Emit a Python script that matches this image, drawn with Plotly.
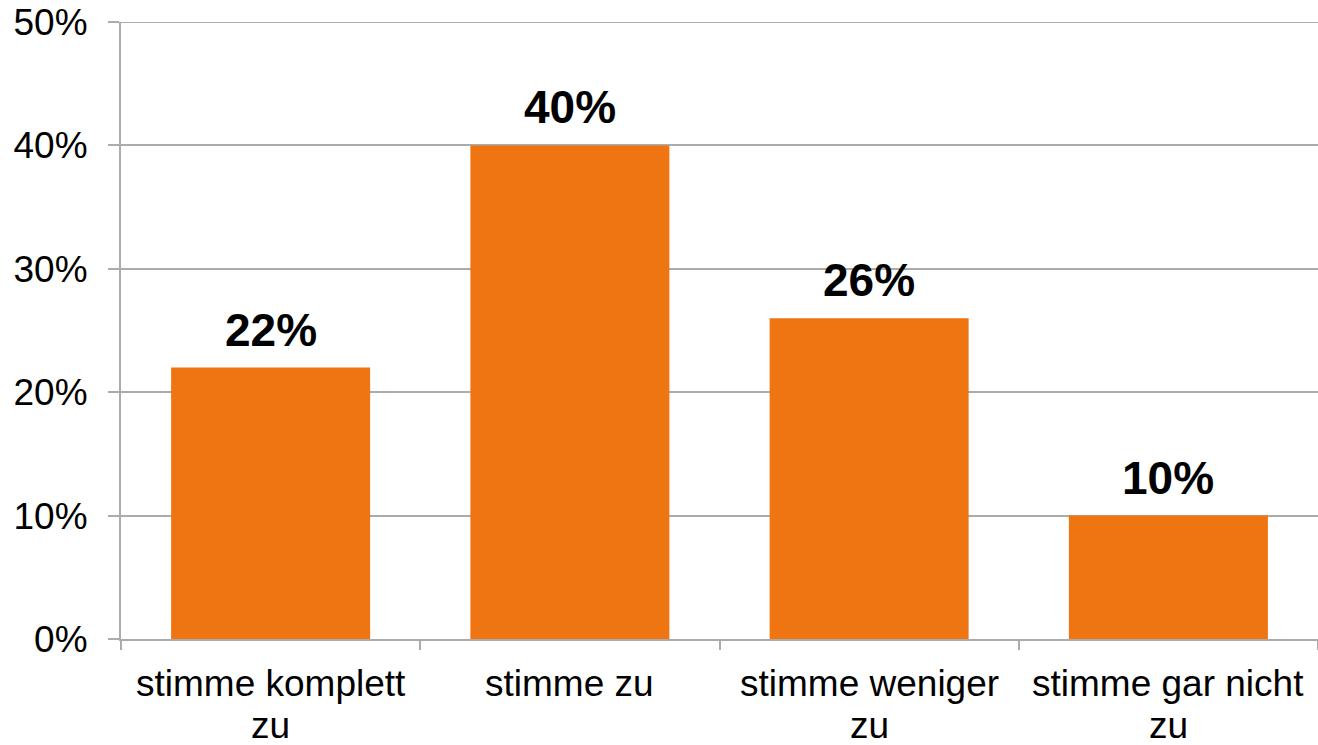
import plotly.graph_objects as go

categories = ["stimme komplett<br>zu", "stimme zu", "stimme weniger<br>zu", "stimme gar nicht<br>zu"]
values = [22, 40, 26, 10]
value_labels = ["22%", "40%", "26%", "10%"]
y_tickvals = [0, 10, 20, 30, 40, 50]
y_ticktext = ["0%", "10%", "20%", "30%", "40%", "50%"]

BAR_COLOR = "#EE7512"
GRID = "#ABABAB"
FONT = "Liberation Sans, Arial, sans-serif"

fig = go.Figure()
fig.add_trace(go.Bar(x=categories, y=values, marker=dict(color=BAR_COLOR, line=dict(width=0)),
                     showlegend=False, hoverinfo="skip"))

for c, v, t in zip(categories, values, value_labels):
    fig.add_annotation(x=c, y=v, text="<b>" + t + "</b>", showarrow=False, yanchor="bottom", yshift=10,
                       font=dict(family=FONT, size=46, color="#000000"))

# category labels, one annotation per text line for tight line spacing
for c in categories:
    for i, line in enumerate(c.split("<br>")):
        fig.add_annotation(x=c, y=0, text=line, showarrow=False, yanchor="top",
                           yshift=-22 - 42 * i, font=dict(family=FONT, size=37, color="#000000"))

# plotly omits the gridline at the very top edge; draw it at the top tick value
fig.add_shape(type="line", xref="paper", yref="y", x0=0, x1=1, y0=y_tickvals[-1], y1=y_tickvals[-1],
              line=dict(color=GRID, width=2), layer="below")

fig.update_layout(
    width=1318, height=745,
    margin=dict(l=121, r=0, t=22, b=106),
    paper_bgcolor="white", plot_bgcolor="white",
    bargap=0.335,
    font=dict(family=FONT, size=37, color="#000000"),
    xaxis=dict(showline=True, linecolor=GRID, linewidth=2, ticks="outside", tickson="boundaries",
               ticklen=9, tickwidth=2, tickcolor=GRID, showgrid=False, showticklabels=False,
               automargin=False),
    yaxis=dict(range=[0, 50], tickvals=y_tickvals, ticktext=y_ticktext, showline=True, linecolor=GRID,
               linewidth=2, ticks="outside", ticklen=11, tickwidth=2, tickcolor=GRID, showgrid=True,
               gridcolor=GRID, gridwidth=2, zeroline=False, tickfont=dict(size=37), ticklabelstandoff=13,
               automargin=False),
)

# remove the browser's default 8px body margin so the figure fills the window
fig.write_html("out.html", config={"displayModeBar": False},
               post_script="document.body.style.margin='0';")
